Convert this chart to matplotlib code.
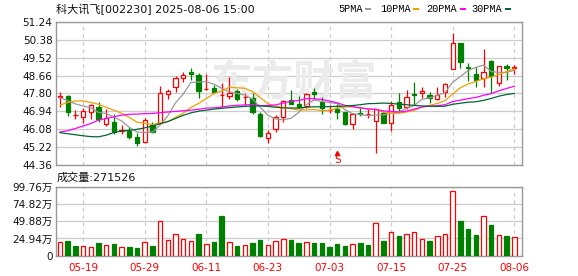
import matplotlib
matplotlib.use("Agg")
import matplotlib.pyplot as plt
from matplotlib.patches import Rectangle
import numpy as np

plt.rcParams['font.family'] = ['DejaVu Sans', 'Noto Sans CJK SC']

title = "科大讯飞[002230] 2025-08-06 15:00"
vol_label = "成交量:271526"
watermark = "东方财富"

dates = ["05-14", "05-15", "05-16", "05-19", "05-20", "05-21", "05-22", "05-23", "05-26", "05-27",
         "05-28", "05-29", "05-30", "06-03", "06-04", "06-05", "06-06", "06-09", "06-10", "06-11",
         "06-12", "06-13", "06-16", "06-17", "06-18", "06-19", "06-20", "06-23", "06-24", "06-25",
         "06-26", "06-27", "06-30", "07-01", "07-02", "07-03", "07-04", "07-07", "07-08", "07-09",
         "07-10", "07-11", "07-14", "07-15", "07-16", "07-17", "07-18", "07-21", "07-22", "07-23",
         "07-24", "07-25", "07-28", "07-29", "07-30", "07-31", "08-01", "08-04", "08-05", "08-06"]

opens = [47.63, 47.68, 46.76, 46.65, 46.89, 47.15, 46.35, 46.43, 46.00, 46.01,
         45.71, 45.45, 46.27, 46.38, 47.76, 48.09, 48.54, 48.81, 48.68, 48.00,
         48.06, 47.72, 47.66, 47.90, 47.64, 47.57, 46.81, 45.65, 46.08, 46.68,
         47.48, 47.29, 47.21, 47.87, 47.37, 47.00, 47.05, 46.91, 46.35, 46.86,
         46.80, 46.49, 46.87, 46.37, 47.37, 47.17, 47.76, 47.84, 47.72, 47.52,
         47.85, 48.95, 50.20, 49.06, 48.73, 48.55, 49.36, 48.32, 49.11, 49.02]
highs = [47.88, 47.72, 47.00, 47.08, 47.28, 47.37, 47.04, 46.83, 46.28, 46.17,
         45.90, 46.60, 46.45, 48.17, 48.01, 48.64, 48.84, 49.04, 48.80, 48.73,
         48.22, 48.28, 48.59, 48.01, 47.82, 47.82, 46.92, 46.03, 46.77, 47.48,
         47.98, 47.68, 47.80, 48.04, 47.64, 47.25, 47.28, 46.92, 46.85, 47.15,
         47.04, 47.05, 46.96, 47.44, 47.84, 47.96, 48.37, 48.11, 47.87, 48.12,
         48.28, 50.71, 50.20, 49.28, 49.08, 49.93, 49.40, 49.10, 49.23, 49.16]
lows = [47.16, 46.73, 46.56, 46.37, 46.57, 46.45, 46.24, 45.87, 45.84, 45.61,
        45.29, 45.42, 45.90, 46.33, 47.52, 47.85, 48.33, 48.44, 47.56, 47.95,
        47.84, 47.16, 47.52, 47.44, 47.25, 46.80, 45.71, 45.44, 45.93, 46.45,
        47.28, 47.09, 47.12, 47.48, 46.83, 46.85, 46.57, 46.29, 46.09, 46.73,
        46.64, 44.96, 46.37, 46.01, 46.92, 47.05, 47.25, 47.60, 47.32, 47.48,
        47.63, 48.95, 49.03, 48.41, 48.12, 48.12, 47.84, 48.17, 48.44, 48.73]
closes = [47.68, 46.92, 46.76, 46.96, 47.25, 46.57, 46.64, 45.93, 46.03, 45.72,
          45.42, 46.54, 45.97, 47.80, 47.90, 48.52, 48.68, 48.73, 47.92, 48.00,
          47.88, 47.72, 47.82, 47.55, 47.64, 46.92, 45.77, 45.90, 46.65, 47.44,
          47.29, 47.15, 47.79, 47.77, 47.09, 47.00, 46.92, 46.33, 46.83, 46.82,
          46.80, 47.04, 46.40, 47.24, 47.12, 47.61, 47.71, 47.93, 47.60, 47.71,
          48.24, 50.20, 49.32, 49.03, 48.46, 48.81, 48.64, 49.10, 49.00, 49.07]
# volume in 万
volumes = [19.8, 21.2, 14.0, 14.0, 12.0, 18.3, 15.4, 16.9, 12.0, 12.5,
           11.1, 19.8, 14.0, 49.6, 22.2, 30.8, 23.6, 21.2, 31.3, 16.9,
           19.8, 57.4, 19.8, 14.0, 14.9, 18.3, 22.7, 15.4, 20.7, 23.6,
           22.7, 18.3, 19.8, 18.3, 18.3, 12.5, 16.9, 14.0, 16.9, 18.3,
           15.4, 46.8, 21.2, 33.7, 28.4, 30.8, 33.7, 23.6, 21.2, 28.0,
           30.8, 93.0, 50.1, 38.6, 29.9, 56.9, 44.3, 29.4, 28.4, 27.15]

ma5 = [47.60, 47.45, 47.30, 47.20, 47.11, 46.89, 46.84, 46.67, 46.48, 46.18,
       45.95, 45.93, 45.94, 46.29, 46.73, 47.35, 47.77, 48.33, 48.35, 48.37,
       48.24, 48.05, 47.87, 47.80, 47.72, 47.53, 47.14, 46.76, 46.58, 46.54,
       46.61, 46.89, 47.26, 47.49, 47.42, 47.36, 47.32, 47.03, 46.83, 46.78,
       46.74, 46.76, 46.77, 46.86, 46.92, 47.08, 47.22, 47.52, 47.59, 47.71,
       47.84, 48.34, 48.61, 48.90, 49.05, 49.16, 48.85, 48.81, 48.80, 48.92]
ma10 = [47.24, 47.37, 47.44, 47.44, 47.37, 47.28, 47.13, 47.00, 46.85, 46.65,
        46.42, 46.38, 46.30, 46.39, 46.45, 46.65, 46.85, 47.13, 47.32, 47.55,
        47.80, 47.91, 48.10, 48.07, 48.05, 47.89, 47.60, 47.31, 47.19, 47.13,
        47.07, 47.01, 47.01, 47.03, 46.98, 46.99, 47.10, 47.15, 47.16, 47.10,
        47.05, 47.04, 46.90, 46.85, 46.85, 46.91, 46.99, 47.15, 47.23, 47.32,
        47.46, 47.78, 48.07, 48.25, 48.38, 48.50, 48.59, 48.71, 48.85, 48.99]
ma20 = [45.95, 46.01, 46.12, 46.24, 46.36, 46.52, 46.60, 46.68, 46.76, 46.80,
        46.81, 46.83, 46.84, 46.88, 46.91, 46.94, 46.97, 47.00, 47.04, 47.10,
        47.11, 47.15, 47.20, 47.23, 47.25, 47.27, 47.22, 47.22, 47.25, 47.34,
        47.43, 47.46, 47.55, 47.55, 47.51, 47.44, 47.35, 47.23, 47.17, 47.11,
        47.06, 47.03, 46.96, 46.94, 46.91, 46.95, 47.05, 47.15, 47.19, 47.21,
        47.26, 47.41, 47.48, 47.55, 47.61, 47.71, 47.79, 47.93, 48.04, 48.15]
ma30 = [45.92, 45.87, 45.82, 45.77, 45.73, 45.72, 45.80, 45.93, 46.00, 46.03,
        46.08, 46.15, 46.24, 46.35, 46.45, 46.60, 46.75, 46.87, 46.95, 47.00,
        47.05, 47.09, 47.12, 47.15, 47.18, 47.20, 47.20, 47.18, 47.14, 47.11,
        47.10, 47.10, 47.14, 47.16, 47.16, 47.17, 47.18, 47.20, 47.22, 47.26,
        47.31, 47.32, 47.34, 47.32, 47.29, 47.26, 47.23, 47.20, 47.19, 47.18,
        47.19, 47.28, 47.33, 47.38, 47.40, 47.47, 47.56, 47.67, 47.75, 47.80]

ma_names = ["5PMA", "10PMA", "20PMA", "30PMA"]
ma_colors = ["#999999", "#f0a000", "#ff00ff", "#006633"]

price_ticks = [44.36, 45.22, 46.08, 46.94, 47.80, 48.66, 49.52, 50.38, 51.24]
vol_ticks = [0, 24.94, 49.88, 74.82, 99.76]
vol_tick_labels = ["0", "24.94万", "49.88万", "74.82万", "99.76万"]
date_ticks = ["05-19", "05-29", "06-11", "06-23", "07-03", "07-15", "07-25", "08-06"]
signal_date = "07-04"

RED = "#ff0000"
GREEN = "#008000"
GRID = "#cccccc"
BORDER = "#999999"

W, H = 578, 276
fig = plt.figure(figsize=(W / 100, H / 100), dpi=100)


def fx(px):
    return px / W


def fy(py):
    return 1 - py / H


ax = fig.add_axes([fx(56), fy(165.2), (522 - 56) / W, (165.2 - 21.7) / H])
axv = fig.add_axes([fx(56), fy(255.7), (522 - 56) / W, (255.7 - 186.7) / H])

x = np.arange(len(dates))
o = np.array(opens)
c = np.array(closes)
h = np.array(highs)
l = np.array(lows)
vol = np.array(volumes)
up = c >= o
cols = np.where(up, RED, GREEN)

bw = 0.56
ax.vlines(x, l, h, colors=cols, linewidth=0.9, zorder=2)
bb = np.minimum(o, c)
bh = np.abs(c - o)
ax.bar(x[up], bh[up], bottom=bb[up], width=bw, facecolor="white", edgecolor=RED,
       linewidth=0.9, zorder=3)
ax.bar(x[~up], bh[~up], bottom=bb[~up], width=bw, facecolor=GREEN, edgecolor=GREEN,
       linewidth=0.9, zorder=3)

for vals, col in zip([ma5, ma10, ma20, ma30], ma_colors):
    ax.plot(x, vals, color=col, linewidth=0.9, zorder=4)

ax.set_xlim(-0.52, 60.0)
ax.set_ylim(price_ticks[0], price_ticks[-1])
ax.set_yticks(price_ticks)
ax.set_yticklabels([f"{v:.2f}" for v in price_ticks])
tick_idx = [dates.index(d) for d in date_ticks]
ax.set_xticks(tick_idx)
ax.tick_params(axis="both", length=0, labelsize=7.5, pad=2.5, labelcolor="#111111")
ax.tick_params(axis="x", labelbottom=False)
ax.grid(axis="y", color=GRID, linewidth=0.9, linestyle="-", zorder=0)
ax.grid(axis="x", color=GRID, linewidth=0.9, linestyle=(0, (3, 3)), zorder=0)
ax.set_axisbelow(True)
for s in ax.spines.values():
    s.set_color(BORDER)
    s.set_linewidth(1.0)

ax.text(0.51, 0.58, watermark, transform=ax.transAxes, fontsize=30, color="#ebebeb",
        ha="center", va="center", family=["Noto Sans CJK SC"], fontweight="bold", zorder=1)

si = dates.index(signal_date)
ax.plot([si], [44.93], marker="^", markersize=3, color=RED, zorder=5, clip_on=False)
ax.text(si, 44.84, "S", color=RED, fontsize=8, ha="center", va="top",
        family=["DejaVu Sans Mono"], zorder=5)

vup = np.concatenate([[True], c[1:] > c[:-1]])
axv.bar(x[vup], vol[vup], width=0.58, facecolor="white", edgecolor=RED, linewidth=0.9, zorder=3)
axv.bar(x[~vup], vol[~vup], width=0.58, facecolor=GREEN, edgecolor=GREEN, linewidth=0.9, zorder=3)
axv.set_xlim(-0.52, 60.0)
axv.set_ylim(0, vol_ticks[-1])
axv.set_yticks(vol_ticks)
axv.set_yticklabels(vol_tick_labels)
axv.set_xticks(tick_idx)
axv.set_xticklabels(date_ticks, color=RED)
axv.tick_params(axis="both", length=0, labelsize=7.5, pad=2.5)
axv.tick_params(axis="y", labelcolor="#111111")
axv.tick_params(axis="x", pad=5)
axv.grid(axis="y", color=GRID, linewidth=0.9, linestyle="-", zorder=0)
axv.grid(axis="x", color=GRID, linewidth=0.9, linestyle=(0, (3, 3)), zorder=0)
axv.set_axisbelow(True)
for s in axv.spines.values():
    s.set_color(BORDER)
    s.set_linewidth(1.0)

fig.text(fx(56), fy(9), title, fontsize=8, ha="left", va="center", color="#111111")
fig.text(fx(57), fy(177.5), vol_label, fontsize=8, ha="left", va="center", color="#111111")

label_x = [338.7, 380, 426, 471]
dash_x = [365, 413, 460, 505]
for name, col, lx, dx in zip(ma_names, ma_colors, label_x, dash_x):
    fig.text(fx(lx), fy(9), name, fontsize=7.4, ha="left", va="center",
             family=["Liberation Mono"], color="black")
    fig.patches.append(Rectangle((fx(dx), fy(10.2)), 6 / W, 2.4 / H, transform=fig.transFigure,
                                 facecolor=col, edgecolor="none"))

fig.savefig("out.png", dpi=100)
